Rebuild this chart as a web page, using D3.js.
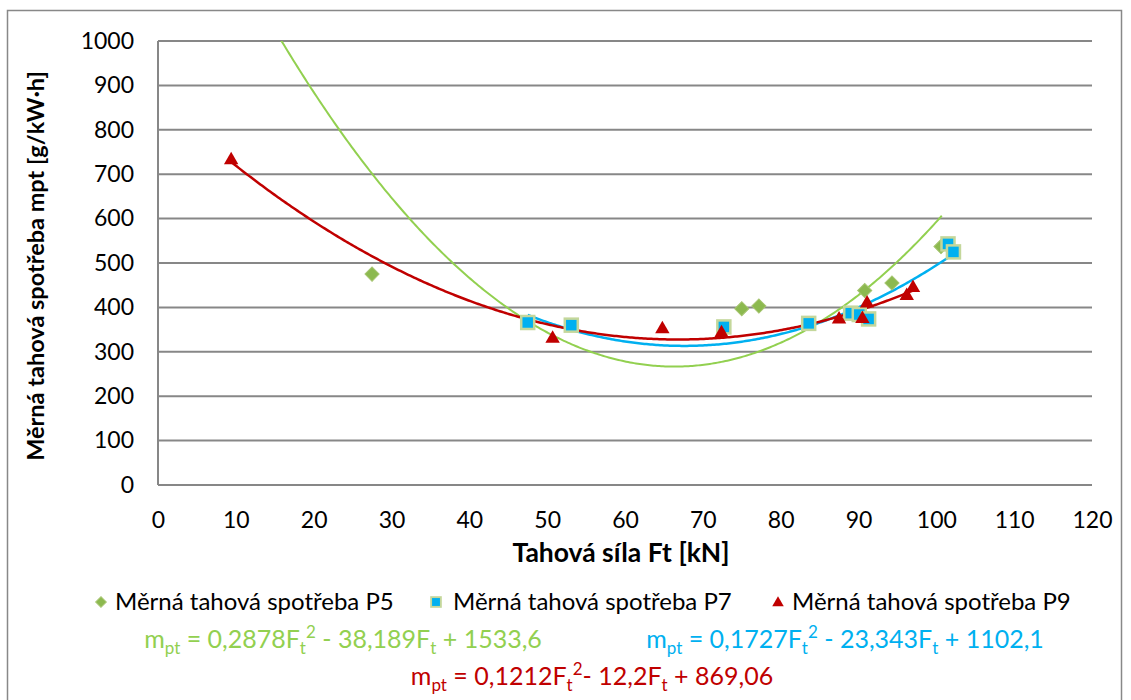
<!DOCTYPE html>
<html>
<head>
<meta charset="utf-8">
<script src="https://cdn.jsdelivr.net/npm/d3@7"></script>
<style>
  body { margin: 0; background: #fff; }
  svg { display: block; font-family: Lato, "Open Sans", sans-serif; }
</style>
</head>
<body>
<svg id="chart" width="1131" height="700"></svg>
<script>
// values
const p5x = [27.5, 75.0, 77.2, 90.8, 94.3, 100.6];
const p5y = [475, 397, 403, 438, 455, 537];
const p7x = [47.5, 53.1, 72.7, 83.6, 89.0, 90.1, 91.3, 101.5, 102.2];
const p7y = [366, 360, 356, 364, 387, 384, 374, 543, 525];
const p9x = [9.4, 50.7, 64.8, 72.4, 87.5, 90.5, 91.1, 96.2, 97.0];
const p9y = [732, 330, 351, 342, 373, 374, 409, 426, 444];

// trendline coefficients (a, b, c); the P9 label prints "12,2" but the drawn curve follows 16,2
const p5coef = [0.2878, -38.189, 1533.6];
const p7coef = [0.1727, -23.343, 1102.1];
const p9coef = [0.1212, -16.2, 869.06];
const p5range = [9.4, 100.7];
const p7range = [47.5, 102.2];
const p9range = [9.4, 97.0];

const xTicks = d3.range(0, 121, 10);
const yTicks = d3.range(0, 1001, 100);
const seriesNames = ["Měrná tahová spotřeba P5", "Měrná tahová spotřeba P7", "Měrná tahová spotřeba P9"];

const svg = d3.select("#chart");

// outer chart frame
svg.append("rect")
  .attr("x", 7.5).attr("y", 10.5).attr("width", 1114).attr("height", 700)
  .attr("fill", "none").attr("stroke", "#888").attr("stroke-width", 1.5);

const x = d3.scaleLinear().domain([0, 120]).range([158, 1092]);
const y = d3.scaleLinear().domain([0, 1000]).range([485, 41]);

// gridlines
svg.append("g")
  .selectAll("line")
  .data(yTicks).enter()
  .append("line")
  .attr("x1", x(0)).attr("x2", x(120))
  .attr("y1", d => y(d)).attr("y2", d => y(d))
  .attr("stroke", "#878787").attr("stroke-width", 2);

// left axis line
svg.append("line")
  .attr("x1", x(0)).attr("x2", x(0)).attr("y1", y(1000)).attr("y2", y(0))
  .attr("stroke", "#878787").attr("stroke-width", 2);

// y axis labels
const yAxis = svg.append("g")
  .attr("transform", `translate(${x(0)},0)`)
  .call(d3.axisLeft(y).tickValues(yTicks).tickFormat(d3.format("d")).tickSize(0).tickPadding(24));
yAxis.select(".domain").remove();
yAxis.selectAll("text").attr("font-size", 23).attr("fill", "#000").attr("font-family", "Lato, sans-serif");

// x axis labels
const xAxis = svg.append("g")
  .attr("transform", `translate(0,${y(0)})`)
  .call(d3.axisBottom(x).tickValues(xTicks).tickFormat(d3.format("d")).tickSize(0).tickPadding(27));
xAxis.select(".domain").remove();
xAxis.selectAll("text").attr("font-size", 23).attr("fill", "#000").attr("font-family", "Lato, sans-serif");

// axis titles
svg.append("text")
  .attr("transform", "translate(44,266) rotate(-90)")
  .attr("text-anchor", "middle")
  .attr("font-size", 23.5).attr("font-weight", "bold")
  .text("Měrná tahová spotřeba mpt [g/kW·h]");

svg.append("text")
  .attr("x", 621).attr("y", 562)
  .attr("text-anchor", "middle")
  .attr("font-size", 26.5).attr("font-weight", "bold")
  .text("Tahová síla Ft [kN]");

// clip to plot area
svg.append("clipPath").attr("id", "plot")
  .append("rect").attr("x", x(0)).attr("y", y(1000))
  .attr("width", x(120) - x(0)).attr("height", y(0) - y(1000));

const plot = svg.append("g").attr("clip-path", "url(#plot)");

function trend(coef, range) {
  const pts = d3.range(range[0], range[1], 0.25).concat([range[1]]);
  return pts.map(v => [v, coef[0] * v * v + coef[1] * v + coef[2]]);
}
const line = d3.line().x(d => x(d[0])).y(d => y(d[1]));

const cGreen = "#92d050", cBlue = "#00b0f0", cRed = "#c00000";
const cDiamond = "#8cb94f", cSqBorder = "#c4d79b";

plot.append("path").datum(trend(p5coef, p5range))
  .attr("d", line).attr("fill", "none").attr("stroke", cGreen).attr("stroke-width", 2);
plot.append("path").datum(trend(p7coef, p7range))
  .attr("d", line).attr("fill", "none").attr("stroke", cBlue).attr("stroke-width", 2.5);
plot.append("path").datum(trend(p9coef, p9range))
  .attr("d", line).attr("fill", "none").attr("stroke", cRed).attr("stroke-width", 2.5);

function drawDiamond(g, cx, cy, k = 1) {
  g.append("path").attr("d", d3.symbol().type(d3.symbolSquare).size(100 * k * k)())
    .attr("transform", `translate(${cx},${cy}) rotate(45)`)
    .attr("fill", cDiamond).attr("stroke", "#a5c46f").attr("stroke-width", 1);
}
function drawSquare(g, cx, cy, k = 1) {
  const h = 6.5 * k;
  g.append("rect").attr("x", cx - h).attr("y", cy - h).attr("width", 2 * h).attr("height", 2 * h)
    .attr("fill", cBlue).attr("stroke", cSqBorder).attr("stroke-width", 2.5 * k);
}
function drawTri(g, cx, cy, k = 1) {
  g.append("path").attr("d", d3.symbol().type(d3.symbolTriangle).size(90 * k * k)())
    .attr("transform", `translate(${cx},${cy})`)
    .attr("fill", cRed);
}

const markers = svg.append("g");
p5x.forEach((v, i) => drawDiamond(markers, x(v), y(p5y[i])));
p7x.forEach((v, i) => drawSquare(markers, x(v), y(p7y[i])));
p9x.forEach((v, i) => drawTri(markers, x(v), y(p9y[i])));

// legend
const legend = svg.append("g").attr("font-size", 24);
drawDiamond(legend, 101, 602, 0.75);
legend.append("text").attr("x", 115).attr("y", 610).text(seriesNames[0]);
drawSquare(legend, 436, 602, 0.75);
legend.append("text").attr("x", 453).attr("y", 610).text(seriesNames[1]);
drawTri(legend, 778, 603, 0.8);
legend.append("text").attr("x", 792).attr("y", 610).text(seriesNames[2]);

// trendline equations
function equation(xMid, yPos, color, parts) {
  const t = svg.append("text").attr("x", xMid).attr("y", yPos)
    .attr("text-anchor", "middle")
    .attr("font-size", 25).attr("fill", color);
  parts.forEach(p => {
    const s = t.append("tspan").text(p[0]);
    if (p[1]) s.attr("dy", p[1]);
    if (p[2]) s.attr("font-size", p[2]);
  });
}
equation(343, 648, cGreen, [
  ["m"], ["pt", 6, 17], [" = 0,2878F", -6], ["t", 6, 17], ["2", -16, 17], [" - 38,189F", 10], ["t", 6, 17], [" + 1533,6", -6]
]);
equation(845, 648, cBlue, [
  ["m"], ["pt", 6, 17], [" = 0,1727F", -6], ["t", 6, 17], ["2", -16, 17], [" - 23,343F", 10], ["t", 6, 17], [" + 1102,1", -6]
]);
equation(592, 685, cRed, [
  ["m"], ["pt", 6, 17], [" = 0,1212F", -6], ["t", 6, 17], ["2", -16, 17], ["- 12,2F", 10], ["t", 6, 17], [" + 869,06", -6]
]);
</script>
</body>
</html>
